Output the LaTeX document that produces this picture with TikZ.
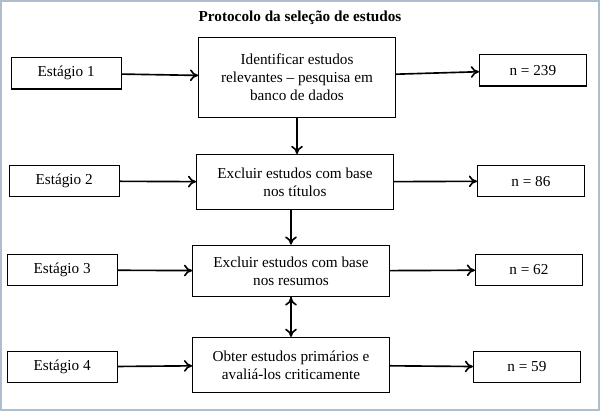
\documentclass[tikz,border=0pt]{standalone}
\usepackage{fontspec}
\setmainfont{Liberation Serif}
\usetikzlibrary{positioning,arrows.meta}
\definecolor{framecol}{RGB}{175,190,205}
\tikzset{stage box/.style={draw,line width=1pt,minimum width=3.3cm,minimum height=0.95cm,inner sep=2pt,font=\fontsize{13}{15.5}\selectfont},
step box/.style={draw,line width=1pt,minimum width=5.9cm,align=center,inner sep=2pt,font=\fontsize{13}{15.5}\selectfont},
count box/.style={draw,line width=1pt,minimum width=3.2cm,minimum height=0.95cm,inner sep=2pt,font=\fontsize{13}{15.5}\selectfont},
}

\begin{document}
\begin{tikzpicture}[x=0.03cm,y=-0.03cm]
				\draw[framecol,line width=2pt,fill=white] (1,1) rectangle (599,410);
				\useasboundingbox (0,0) rectangle (600,411);
				\node[font=\bfseries\fontsize{13}{15}\selectfont] (T) at (300,18) {Protocolo da seleção de estudos};
				
				\node[stage box] (S1) at (66,73) {Estágio 1};
				\node[step box,minimum height=2.4cm] (P1) at (297,77) {Identificar estudos\\relevantes -- pesquisa em\\banco de dados};
				\node[count box] (N1) at (533,70) {n = 239};
				
				\node[stage box] (S2) at (64,181) {Estágio 2};
				\node[step box,minimum height=1.65cm] (P2) at (295,182) {Excluir estudos com base\\nos títulos};
				\node[count box] (N2) at (531,181) {n = 86};
				
				\node[stage box] (S3) at (62,270) {Estágio 3};
				\node[step box,minimum height=1.55cm] (P3) at (291,271) {Excluir estudos com base\\nos resumos};
				\node[count box] (N3) at (529,270) {n = 62};
				
				\node[stage box] (S4) at (62,367) {Estágio 4};
				\node[step box,minimum height=1.65cm] (P4) at (291,365) {Obter estudos primários e\\avaliá-los criticamente};
				\node[count box] (N4) at (527,367) {n = 59};
				
				\path[draw,line width=1.4pt,->,>={To[length=7pt,width=10pt]}]
				(S1) edge (P1)
				(P1) edge (N1)
				(S2) edge (P2)
				(P2) edge (N2)
				(S3) edge (P3)
				(P3) edge (N3)
				(S4) edge (P4)
				(P4) edge (N4)
				(P1.south) edge (P1.south |- P2.north)
				(P3.north |- P2.south) edge (P3.north)
				(P3.south) edge (P4.north);
				
			\end{tikzpicture}
\end{document}
